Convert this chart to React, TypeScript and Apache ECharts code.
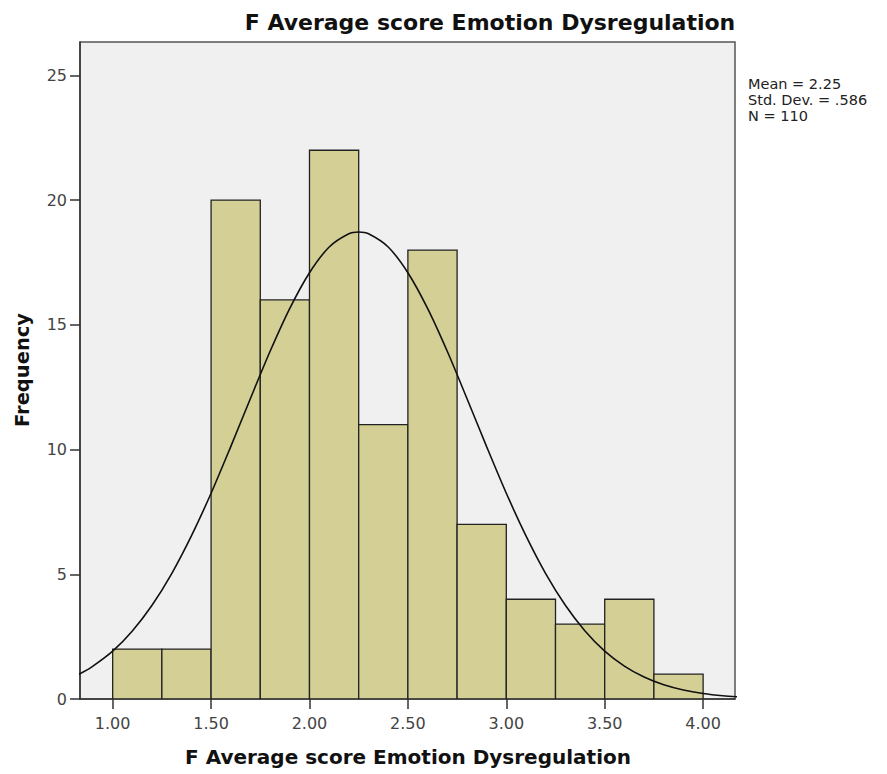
import React, { useEffect, useRef } from "react";
import * as echarts from "echarts";

const binStarts = [1.0, 1.25, 1.5, 1.75, 2.0, 2.25, 2.5, 2.75, 3.0, 3.25, 3.5, 3.75];
const binEnds = [1.25, 1.5, 1.75, 2.0, 2.25, 2.5, 2.75, 3.0, 3.25, 3.5, 3.75, 4.0];
const frequencies = [2, 2, 20, 16, 22, 11, 18, 7, 4, 3, 4, 1];

const curveX = [0.8, 0.85, 0.9, 1.0, 1.1, 1.2, 1.3, 1.4, 1.5, 1.6, 1.7, 1.8, 1.9, 2.0, 2.1, 2.2, 2.25, 2.3, 2.4, 2.5, 2.6, 2.7, 2.8, 2.9, 3.0, 3.1, 3.2, 3.3, 3.4, 3.5, 3.6, 3.7, 3.8, 3.9, 4.0, 4.1, 4.2];
const curveY = [0.88, 1.08, 1.32, 1.92, 2.73, 3.76, 5.03, 6.54, 8.25, 10.12, 12.05, 13.94, 15.66, 17.09, 18.12, 18.65, 18.72, 18.65, 18.12, 17.09, 15.66, 13.94, 12.05, 10.12, 8.25, 6.54, 5.03, 3.76, 2.73, 1.92, 1.32, 0.88, 0.57, 0.36, 0.22, 0.13, 0.074];

const xTicks = [1.0, 1.5, 2.0, 2.5, 3.0, 3.5, 4.0];
const yTicks = [0, 5, 10, 15, 20, 25];

const titleText = "F Average score Emotion Dysregulation";
const xName = "F Average score Emotion Dysregulation";
const yName = "Frequency";
const statsLines = ["Mean = 2.25", "Std. Dev. = .586", "N = 110"];

export default function App() {
  const ref = useRef<HTMLDivElement>(null);
  useEffect(() => {
    document.body.style.margin = "0";
    if (!ref.current) return;
    const chart = echarts.init(ref.current, null, { renderer: "svg" });
    const font = "DejaVu Sans";
    const barData = binStarts.map((s, i) => [s, binEnds[i], frequencies[i]]);
    const lineData = curveX.map((x, i) => [x, curveY[i]]);
    const statsTexts = statsLines.map((t, i) => ({
      type: "text",
      x: 748,
      y: 76 + i * 16,
      style: {
        text: t,
        fontFamily: font,
        fontSize: 14.5,
        fill: "#222",
        textAlign: "left",
        textVerticalAlign: "top",
      },
    }));
    chart.setOption({
      animation: false,
      backgroundColor: "#ffffff",
      title: {
        text: titleText,
        left: 485,
        top: 6,
        textAlign: "center",
        textStyle: { fontFamily: font, fontWeight: "bold", fontSize: 22, color: "#111" },
      },
      grid: {
        left: 80,
        top: 42,
        width: 655,
        height: 657,
        show: true,
        backgroundColor: "#f0f0f0",
        borderColor: "#555",
        borderWidth: 1.5,
      },
      xAxis: {
        type: "value",
        min: 0.834,
        max: 4.162,
        axisLine: { show: true, lineStyle: { color: "#333", width: 1.5 } },
        axisTick: { show: true, length: 10, lineStyle: { color: "#333", width: 1.5 }, customValues: xTicks },
        axisLabel: {
          customValues: xTicks,
          formatter: (v: number) => v.toFixed(2),
          fontFamily: font,
          fontSize: 16,
          color: "#444",
          margin: 16,
        },
        splitLine: { show: false },
      },
      yAxis: {
        type: "value",
        min: 0,
        max: 26.34,
        axisLine: { show: true, lineStyle: { color: "#333", width: 1.5 } },
        axisTick: { show: true, length: 10, lineStyle: { color: "#333", width: 1.5 }, customValues: yTicks },
        axisLabel: {
          customValues: yTicks,
          fontFamily: font,
          fontSize: 16,
          color: "#444",
          margin: 13,
        },
        splitLine: { show: false },
      },
      graphic: [
        {
          type: "text",
          x: 408,
          y: 757,
          style: {
            text: xName,
            fontFamily: font,
            fontWeight: "bold",
            fontSize: 20,
            fill: "#111",
            textAlign: "center",
            textVerticalAlign: "middle",
          },
        },
        {
          type: "text",
          x: 22,
          y: 370,
          rotation: Math.PI / 2,
          style: {
            text: yName,
            fontFamily: font,
            fontWeight: "bold",
            fontSize: 19.5,
            fill: "#111",
            textAlign: "center",
            textVerticalAlign: "middle",
          },
        },
        ...statsTexts,
      ],
      series: [
        {
          type: "custom",
          data: barData,
          encode: { x: [0, 1], y: 2 },
          clip: true,
          renderItem: (params: any, api: any) => {
            const x0 = api.value(0);
            const x1 = api.value(1);
            const y = api.value(2);
            const p0 = api.coord([x0, y]);
            const p1 = api.coord([x1, 0]);
            return {
              type: "rect",
              shape: { x: p0[0], y: p0[1], width: p1[0] - p0[0], height: p1[1] - p0[1] },
              style: { fill: "#d3cf95", stroke: "#222", lineWidth: 1.3 },
            };
          },
        },
        {
          type: "line",
          data: lineData,
          smooth: 0.3,
          showSymbol: false,
          symbol: "none",
          clip: true,
          lineStyle: { color: "#111", width: 1.6 },
          z: 5,
        },
      ],
    });
    return () => chart.dispose();
  }, []);
  return <div ref={ref} style={{ width: 887, height: 774 }} />;
}
